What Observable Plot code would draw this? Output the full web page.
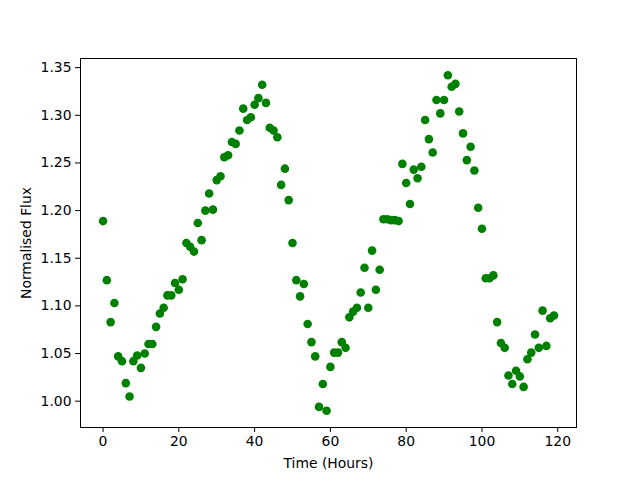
<!DOCTYPE html>
<html>
<head>
<meta charset="utf-8">
<script src="https://cdn.jsdelivr.net/npm/d3@7"></script>
<script src="https://cdn.jsdelivr.net/npm/@observablehq/plot@0.6"></script>
<style>
  html, body { margin: 0; padding: 0; background: #ffffff; }
  #chart { width: 640px; height: 480px; }
</style>
</head>
<body>
<div id="chart"></div>
<script>
const hours = [
  0, 1, 2, 3, 4, 5, 6, 7, 8, 9,
  10, 11, 12, 13, 14, 15, 16, 17, 18, 19,
  20, 21, 22, 23, 24, 25, 26, 27, 28, 29,
  30, 31, 32, 33, 34, 35, 36, 37, 38, 39,
  40, 41, 42, 43, 44, 45, 46, 47, 48, 49,
  50, 51, 52, 53, 54, 55, 56, 57, 58, 59,
  60, 61, 62, 63, 64, 65, 66, 67, 68, 69,
  70, 71, 72, 73, 74, 75, 76, 77, 78, 79,
  80, 81, 82, 83, 84, 85, 86, 87, 88, 89,
  90, 91, 92, 93, 94, 95, 96, 97, 98, 99,
  100, 101, 102, 103, 104, 105, 106, 107, 108, 109,
  110, 111, 112, 113, 114, 115, 116, 117, 118, 119
];
const flux = [
  1.189, 1.127, 1.083, 1.103, 1.047, 1.042, 1.019, 1.005, 1.042, 1.048,
  1.035, 1.050, 1.060, 1.060, 1.078, 1.092, 1.098, 1.111, 1.111, 1.124,
  1.117, 1.128, 1.166, 1.162, 1.157, 1.187, 1.169, 1.200, 1.218, 1.201,
  1.232, 1.236, 1.256, 1.258, 1.272, 1.270, 1.284, 1.307, 1.295, 1.298,
  1.311, 1.318, 1.332, 1.313, 1.287, 1.284, 1.277, 1.227, 1.244, 1.211,
  1.166, 1.127, 1.110, 1.123, 1.081, 1.062, 1.047, 0.994, 1.018, 0.990,
  1.036, 1.051, 1.051, 1.062, 1.056, 1.088, 1.094, 1.098, 1.114, 1.140,
  1.098, 1.158, 1.117, 1.138, 1.191, 1.191, 1.190, 1.190, 1.189, 1.249,
  1.229, 1.207, 1.243, 1.234, 1.246, 1.295, 1.275, 1.261, 1.316, 1.302,
  1.316, 1.342, 1.330, 1.333, 1.304, 1.281, 1.253, 1.267, 1.242, 1.203,
  1.181, 1.129, 1.129, 1.132, 1.083, 1.061, 1.056, 1.027, 1.018, 1.032,
  1.026, 1.015, 1.044, 1.051, 1.070, 1.056, 1.095, 1.058, 1.087, 1.090
];
const xTicks = [0, 20, 40, 60, 80, 100, 120];
const yTicks = [1.00, 1.05, 1.10, 1.15, 1.20, 1.25, 1.30, 1.35];
const xLabel = "Time (Hours)";
const yLabel = "Normalised Flux";

const data = hours.map((h, i) => ({hour: h, flux: flux[i]}));

// matplotlib-style 5% margins around the data extent
const xMin = d3.min(hours), xMax = d3.max(hours);
const yMin = d3.min(flux), yMax = d3.max(flux);
const xPad = (xMax - xMin) * 0.05, yPad = (yMax - yMin) * 0.05;

const chart = Plot.plot({
  width: 640,
  height: 480,
  marginLeft: 80,
  marginRight: 64,
  marginTop: 58,
  marginBottom: 53,
  style: {fontFamily: "DejaVu Sans", fontSize: "13.9px", background: "#ffffff", color: "#000000"},
  x: {domain: [xMin - xPad, xMax + xPad]},
  y: {domain: [yMin - yPad, yMax + yPad]},
  marks: [
    Plot.dot(data, {x: "hour", y: "flux", r: 4.3, fill: "#008000", stroke: "none"}),
    Plot.frame({stroke: "#000000", strokeWidth: 1}),
    Plot.axisX({ticks: xTicks, tickFormat: d => String(d), tickSize: 5, tickPadding: 4,
      label: xLabel, labelAnchor: "center", labelArrow: "none", labelOffset: 40}),
    Plot.axisY({ticks: yTicks, tickFormat: d => d.toFixed(2), tickSize: 5, tickPadding: 4,
      label: yLabel, labelAnchor: "center", labelArrow: "none", labelOffset: 59})
  ]
});
document.getElementById("chart").appendChild(chart);
</script>
</body>
</html>
